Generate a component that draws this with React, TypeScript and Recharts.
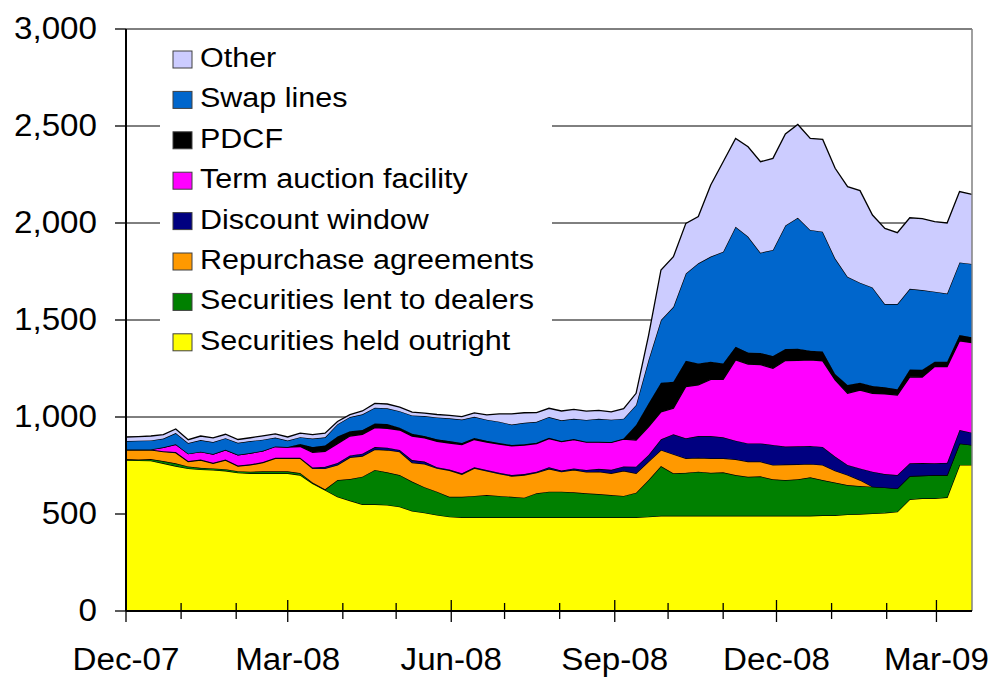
import { AreaChart, Area, XAxis, YAxis, CartesianGrid, ReferenceLine, Legend } from 'recharts';

// weekly observation dates (Wednesdays)
const weeks = [
  '2007-12-05', '2007-12-12', '2007-12-19', '2007-12-26',
  '2008-01-02', '2008-01-09', '2008-01-16', '2008-01-23', '2008-01-30',
  '2008-02-06', '2008-02-13', '2008-02-20', '2008-02-27',
  '2008-03-05', '2008-03-12', '2008-03-19', '2008-03-26',
  '2008-04-02', '2008-04-09', '2008-04-16', '2008-04-23', '2008-04-30',
  '2008-05-07', '2008-05-14', '2008-05-21', '2008-05-28',
  '2008-06-04', '2008-06-11', '2008-06-18', '2008-06-25',
  '2008-07-02', '2008-07-09', '2008-07-16', '2008-07-23', '2008-07-30',
  '2008-08-06', '2008-08-13', '2008-08-20', '2008-08-27',
  '2008-09-03', '2008-09-10', '2008-09-17', '2008-09-24',
  '2008-10-01', '2008-10-08', '2008-10-15', '2008-10-22', '2008-10-29',
  '2008-11-05', '2008-11-12', '2008-11-19', '2008-11-26',
  '2008-12-03', '2008-12-10', '2008-12-17', '2008-12-24', '2008-12-31',
  '2009-01-07', '2009-01-14', '2009-01-21', '2009-01-28',
  '2009-02-04', '2009-02-11', '2009-02-18', '2009-02-25',
  '2009-03-04', '2009-03-11', '2009-03-18', '2009-03-25',
];

// $ billions
const outright = [
  778, 776, 775, 761, 747, 735, 730, 727, 723, 713,
  710, 710, 710, 710, 701, 658, 624, 589, 569, 550,
  550, 547, 538, 516, 507, 495, 486, 483, 483, 483,
  483, 483, 483, 483, 483, 483, 483, 483, 483, 483,
  483, 483, 486, 491, 491, 491, 491, 491, 491, 491,
  491, 491, 491, 491, 491, 491, 493, 493, 498, 500,
  503, 506, 512, 576, 581, 581, 586, 753, 753,
];
const secLent = [
  5, 5, 8, 12, 14, 10, 8, 8, 8, 8,
  8, 10, 10, 10, 10, 5, 3, 86, 111, 142,
  177, 168, 163, 151, 131, 120, 103, 106, 110, 115,
  110, 106, 101, 124, 132, 132, 129, 124, 120, 115,
  110, 127, 189, 256, 219, 221, 227, 221, 224, 210,
  201, 203, 188, 184, 188, 198, 182, 169, 151, 144,
  138, 131, 120, 120, 117, 120, 115, 111, 103,
];
const repo = [
  47, 49, 47, 48, 55, 25, 40, 26, 47, 26,
  35, 45, 67, 67, 76, 72, 108, 78, 112, 107,
  106, 115, 120, 98, 120, 121, 136, 116, 143, 124,
  115, 107, 117, 106, 118, 103, 116, 110, 115, 112,
  130, 100, 95, 83, 98, 75, 72, 75, 72, 81,
  78, 76, 74, 80, 77, 69, 78, 61, 52, 31,
  0, 0, 0, 0, 0, 0, 0, 0, 0,
];
const discount = [
  3, 3, 3, 3, 3, 3, 3, 3, 3, 3,
  3, 3, 3, 3, 3, 5, 8, 10, 10, 12,
  12, 12, 9, 13, 12, 5, 5, 5, 5, 5,
  5, 5, 5, 5, 8, 6, 7, 10, 15, 18,
  22, 34, 34, 55, 103, 103, 112, 115, 108, 96,
  94, 94, 103, 93, 93, 93, 93, 73, 52, 60,
  77, 69, 69, 65, 65, 60, 63, 69, 63,
];
const taf = [
  0, 0, 0, 20, 40, 38, 40, 45, 50, 55,
  58, 58, 58, 55, 58, 78, 80, 100, 100, 100,
  100, 100, 103, 124, 122, 134, 136, 148, 143, 143,
  147, 150, 149, 145, 148, 149, 148, 144, 138, 141,
  141, 137, 146, 142, 134, 267, 263, 292, 299, 416,
  409, 406, 395, 443, 443, 443, 443, 395, 369, 404,
  404, 413, 412, 446, 443, 499, 496, 460, 464,
];
const pdcf = [
  0, 0, 0, 0, 0, 0, 0, 0, 0, 0,
  0, 0, 0, 0, 13, 27, 30, 36, 25, 22,
  22, 22, 12, 12, 10, 10, 10, 8, 8, 7,
  6, 5, 5, 4, 4, 3, 3, 2, 2, 2,
  3, 78, 120, 150, 137, 133, 111, 91, 82, 68,
  59, 60, 63, 60, 60, 48, 48, 31, 43, 38,
  38, 34, 30, 38, 38, 25, 25, 30, 28,
];
const swap = [
  43, 45, 46, 45, 58, 55, 60, 62, 60, 62,
  62, 57, 46, 34, 35, 44, 42, 64, 73, 81,
  81, 81, 85, 94, 103, 113, 117, 121, 109, 109,
  110, 105, 110, 108, 107, 107, 105, 112, 118, 115,
  102, 103, 224, 323, 386, 450, 516, 542, 576, 619,
  598, 517, 547, 636, 675, 622, 618, 596, 558, 515,
  508, 429, 439, 416, 410, 361, 352, 374, 378,
];
const other = [
  21, 21, 23, 20, 21, 17, 21, 21, 20, 17,
  17, 20, 19, 18, 21, 20, 22, 14, 12, 17,
  22, 22, 21, 17, 15, 15, 15, 15, 20, 25,
  40, 55, 52, 48, 45, 48, 48, 45, 43, 40,
  52, 60, 126, 258, 258, 258, 241, 369, 464, 455,
  463, 469, 472, 472, 481, 472, 476, 464, 464, 475,
  373, 390, 368, 366, 369, 361, 363, 365, 359,
];

const monthTicks = [
  '2007-12-05', '2008-01-05', '2008-02-05', '2008-03-05', '2008-04-05', '2008-05-05',
  '2008-06-05', '2008-07-05', '2008-08-05', '2008-09-05', '2008-10-05', '2008-11-05',
  '2008-12-05', '2009-01-05', '2009-02-05', '2009-03-05',
];
const tickLabels = [
  'Dec-07', '', '', 'Mar-08', '', '', 'Jun-08', '', '', 'Sep-08', '', '', 'Dec-08', '', '', 'Mar-09',
];
const yTicks = [0, 500, 1000, 1500, 2000, 2500, 3000];

// bottom to top
const SERIES = [
  { key: 'outright', name: 'Securities held outright', color: '#FFFF00', values: outright },
  { key: 'secLent', name: 'Securities lent to dealers', color: '#008000', values: secLent },
  { key: 'repo', name: 'Repurchase agreements', color: '#FF9900', values: repo },
  { key: 'discount', name: 'Discount window', color: '#000080', values: discount },
  { key: 'taf', name: 'Term auction facility', color: '#FF00FF', values: taf },
  { key: 'pdcf', name: 'PDCF', color: '#000000', values: pdcf },
  { key: 'swap', name: 'Swap lines', color: '#0066CC', values: swap },
  { key: 'other', name: 'Other', color: '#CCCCFF', values: other },
];

const DAY_MS = 86400000;
const start = Date.parse(weeks[0]);
const toDay = (d: string) => Math.round((Date.parse(d) - start) / DAY_MS);
const lastDay = toDay(weeks[weeks.length - 1]);
const tickDays = monthTicks.map(toDay);

const data = weeks.map((w, i) => {
  const row: Record<string, number> = { day: toDay(w) };
  SERIES.forEach(s => { row[s.key] = s.values[i]; });
  return row;
});

const FONT = '"Liberation Sans", Arial, Helvetica, sans-serif';
const PLOT_TOP = 29;
const PLOT_H = 582;
const AXIS_Y = PLOT_TOP + PLOT_H;

function YTick(props: any) {
  const { x, y, payload } = props;
  return (
    <text
      transform={`translate(${x - 16},${y + 10}) scale(1.07,1)`}
      textAnchor="end"
      fontSize={31}
      fontFamily={FONT}
      fill="#000"
    >
      {Number(payload.value).toLocaleString('en-US')}
    </text>
  );
}

function XTick(props: any) {
  const { x, payload } = props;
  const idx = tickDays.indexOf(payload.value);
  const label = idx >= 0 ? tickLabels[idx] : '';
  const major = label !== '';
  const len = major ? 11 : 8;
  return (
    <g>
      <line x1={x} x2={x} y1={AXIS_Y - len} y2={AXIS_Y + len} stroke="#000" strokeWidth={1.3} />
      {major && (
        <text
          transform={`translate(${x},${AXIS_Y + 59}) scale(1.07,1)`}
          textAnchor="middle"
          fontSize={31}
          fontFamily={FONT}
          fill="#000"
        >
          {label}
        </text>
      )}
    </g>
  );
}

function LegendBox() {
  const rows = [...SERIES].reverse();
  return (
    <svg width={392} height={330} style={{ display: 'block' }}>
      {rows.map((s, k) => (
        <g key={s.key}>
          <rect x={13} y={15 + k * 40.4} width={19} height={17} fill={s.color} stroke="#404040" strokeWidth={1} />
          <text
            transform={`translate(40,${31 + k * 40.4}) scale(1.13,1)`}
            fontSize={27}
            fontFamily={FONT}
            fill="#000"
          >
            {s.name}
          </text>
        </g>
      ))}
    </svg>
  );
}

export default function App() {
  return (
    <div style={{ position: 'absolute', left: 0, top: 0, width: 992, height: 677, background: '#fff' }}>
      <AreaChart
        width={992}
        height={677}
        data={data}
        margin={{ top: PLOT_TOP, right: 20, bottom: 0, left: 0 }}
      >
        <CartesianGrid vertical={false} stroke="#000" strokeWidth={1} />
        {SERIES.map(s => (
          <Area
            key={s.key}
            type="linear"
            dataKey={s.key}
            name={s.name}
            stackId="1"
            stroke="#000"
            strokeWidth={1.3}
            fill={s.color}
            fillOpacity={1}
            dot={false}
            activeDot={false}
            isAnimationActive={false}
          />
        ))}
        <ReferenceLine x={lastDay} stroke="#808080" strokeWidth={1.5} />
        <XAxis
          type="number"
          dataKey="day"
          domain={[0, lastDay]}
          ticks={tickDays}
          interval={0}
          height={66}
          axisLine={{ stroke: '#000', strokeWidth: 2 }}
          tickLine={false}
          tick={<XTick />}
        />
        <YAxis
          type="number"
          domain={[0, 3000]}
          ticks={yTicks}
          interval={0}
          width={126}
          axisLine={{ stroke: '#000', strokeWidth: 2 }}
          tickLine={{ stroke: '#000', strokeWidth: 1.3 }}
          tickSize={11}
          tick={<YTick />}
        />
        <Legend
          layout="vertical"
          align="center"
          verticalAlign="middle"
          wrapperStyle={{ left: 160, top: 36, width: 392, height: 330, background: '#fff' }}
          content={() => <LegendBox />}
        />
      </AreaChart>
    </div>
  );
}
